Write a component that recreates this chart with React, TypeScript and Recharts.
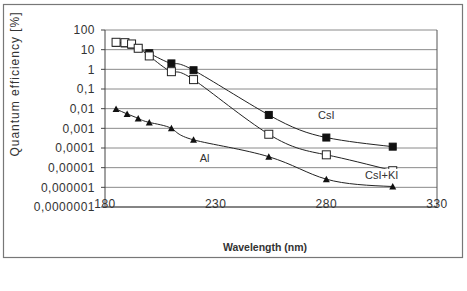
import React from "react";
import {
  LineChart,
  Line,
  XAxis,
  YAxis,
  CartesianGrid,
  ReferenceLine,
  ReferenceDot
} from "recharts";

// wavelengths (nm)
const squareWavelengths = [185, 189, 192, 195, 200, 210, 220, 254, 280, 310];
const alWavelengths = [185, 190, 195, 200, 210, 220, 254, 280, 310];

// quantum efficiency (%)
const csiValues = [22, 21, 18, 12, 6.6, 2.0, 0.9, 0.0048, 0.00034, 0.000117];
const csiKiValues = [23.7, 22.7, 19.5, 11.8, 4.8, 0.76, 0.3, 0.0005, 0.000045, 0.000007];
const alValues = [0.0096, 0.0054, 0.0032, 0.002, 0.001, 0.00026, 0.000036, 0.0000026, 0.0000011];

const xTicks = [180, 230, 280, 330];
const yTicks = [0.0000001, 0.000001, 0.00001, 0.0001, 0.001, 0.01, 0.1, 1, 10, 100];

const csiData = squareWavelengths.map((w, i) => ({ w, v: csiValues[i] }));
const csiKiData = squareWavelengths.map((w, i) => ({ w, v: csiKiValues[i] }));
const alData = alWavelengths.map((w, i) => ({ w, v: alValues[i] }));

const font = "'Liberation Sans', Arial, sans-serif";

const formatY = (v: number) => {
  if (v >= 1) return String(Math.round(v));
  const digits = Math.round(-Math.log10(v));
  return v.toFixed(digits).replace(".", ",");
};

const FilledSquare = (props: any) => {
  const { cx, cy } = props;
  if (cx == null || cy == null) return null;
  return <rect x={cx - 3.5} y={cy - 3.5} width={7} height={7} fill="#111" stroke="#111" />;
};

const OpenSquare = (props: any) => {
  const { cx, cy } = props;
  if (cx == null || cy == null) return null;
  return <rect x={cx - 4} y={cy - 4} width={8} height={8} fill="#fff" stroke="#222" strokeWidth={1} />;
};

const Triangle = (props: any) => {
  const { cx, cy } = props;
  if (cx == null || cy == null) return null;
  return (
    <polygon
      points={`${cx},${cy - 3.5} ${cx - 3.5},${cy + 3} ${cx + 3.5},${cy + 3}`}
      fill="#111"
    />
  );
};

const XTick = (props: any) => {
  const { x, y, payload } = props;
  return (
    <text x={x} y={y + 1} textAnchor="middle" fontSize={12} letterSpacing={0.5} fill="#333" fontFamily={font}>
      {payload.value}
    </text>
  );
};

const SeriesLabel = (text: string, boxed: boolean) => (props: any) => {
  const { viewBox } = props;
  const cx = viewBox.x + (viewBox.width || 0) / 2;
  const cy = viewBox.y + (viewBox.height || 0) / 2;
  const w = text.length * 5.6;
  return (
    <g>
      {boxed && <rect x={cx - w / 2 - 1} y={cy - 6} width={w + 2} height={12} fill="#fff" />}
      <text x={cx} y={cy + 4} textAnchor="middle" fontSize={11} fill="#333" fontFamily={font}>
        {text}
      </text>
    </g>
  );
};

export default function App() {
  return (
    <div style={{ position: "absolute", left: 0, top: 0, width: 467, height: 291, background: "#fff" }}>
      <svg width={467} height={291} style={{ position: "absolute", left: 0, top: 0 }}>
        <rect x={3.5} y={4.5} width={459} height={253} fill="#fff" stroke="#777" strokeWidth={1.2} />
        <text
          x={0}
          y={0}
          transform="translate(19, 84) rotate(-90)"
          textAnchor="middle"
          fontSize={12}
          letterSpacing={1}
          fill="#333"
          fontFamily={font}
        >
          Quantum efficiency [%]
        </text>
        <text x={265} y={251} textAnchor="middle" fontSize={10.5} fontWeight="bold" fill="#333" fontFamily={font}>
          Wavelength (nm)
        </text>
      </svg>
      <div style={{ position: "absolute", left: 0, top: 0 }}>
        <LineChart width={467} height={291} margin={{ top: 30, right: 30, left: 5, bottom: 54 }}>
          <CartesianGrid vertical={false} stroke="#8a8a8a" strokeWidth={1} />
          <XAxis
            dataKey="w"
            type="number"
            domain={[180, 330]}
            ticks={xTicks}
            interval={0}
            allowDuplicatedCategory={false}
            tickLine={false}
            tickSize={0}
            tickMargin={0}
            height={30}
            stroke="#444"
            tick={<XTick />}
          />
          <YAxis
            dataKey="v"
            scale="log"
            domain={[0.0000001, 100]}
            ticks={yTicks}
            interval={0}
            allowDataOverflow
            width={100}
            tickSize={4}
            tickMargin={6}
            stroke="#444"
            tickFormatter={formatY}
            tick={{ fontSize: 12, fill: "#333", fontFamily: font, letterSpacing: 0.5 }}
          />
          <ReferenceLine x={330} stroke="#555" />
          <Line
            data={csiData}
            dataKey="v"
            type="natural"
            stroke="#222"
            strokeWidth={1}
            dot={<FilledSquare />}
            isAnimationActive={false}
          />
          <Line
            data={csiKiData}
            dataKey="v"
            type="natural"
            stroke="#222"
            strokeWidth={1}
            dot={<OpenSquare />}
            isAnimationActive={false}
          />
          <Line
            data={alData}
            dataKey="v"
            type="natural"
            stroke="#222"
            strokeWidth={1}
            dot={<Triangle />}
            isAnimationActive={false}
          />
          <ReferenceDot x={280} y={0.0048} r={0} stroke="none" label={SeriesLabel("CsI", false)} />
          <ReferenceDot x={225} y={0.000031} r={0} stroke="none" label={SeriesLabel("Al", false)} />
          <ReferenceDot x={305} y={0.0000043} r={0} stroke="none" label={SeriesLabel("CsI+KI", true)} />
        </LineChart>
      </div>
    </div>
  );
}
